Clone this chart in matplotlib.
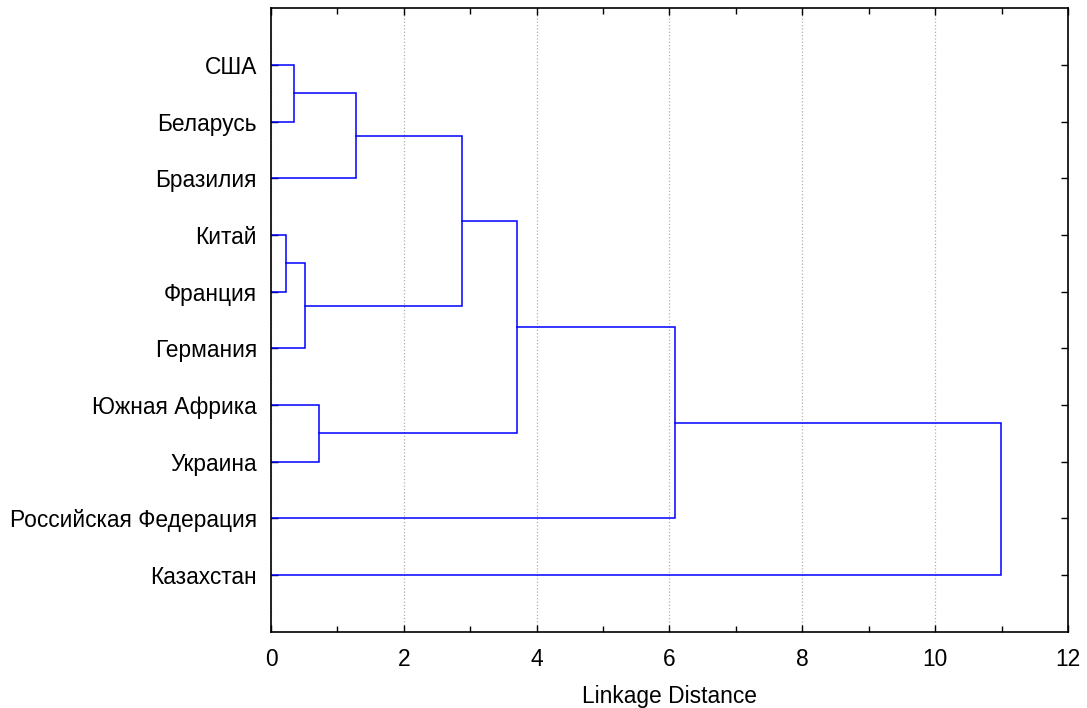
import numpy as np
import matplotlib
matplotlib.use('Agg')
import matplotlib.pyplot as plt
from matplotlib.ticker import MultipleLocator

plt.rcParams['font.family'] = ['Liberation Sans', 'DejaVu Sans']

# Leaves, top to bottom
countries = ['США', 'Беларусь', 'Бразилия', 'Китай', 'Франция', 'Германия',
             'Южная Африка', 'Украина', 'Российская Федерация', 'Казахстан']

# Merges: (node a, node b, linkage distance); new nodes get ids 10, 11, ...
merge_left = [0, 3, 10, 11, 6, 12, 15, 16, 17]
merge_right = [1, 4, 2, 5, 7, 13, 14, 8, 9]
merge_dist = [0.34, 0.22, 1.28, 0.51, 0.72, 2.88, 3.70, 6.08, 10.99]

fig = plt.figure(figsize=(10.87, 7.08), dpi=100)
ax = fig.add_axes([0.2493, 0.1078, 0.9825 - 0.2493, 0.988 - 0.1078])

n = len(countries)
ypos = {i: i + 1 for i in range(n)}
xpos = {i: 0.0 for i in range(n)}
color = '#0000ff'
for k, (a, b, d) in enumerate(zip(merge_left, merge_right, merge_dist)):
    node = n + k
    ax.plot([xpos[a], d, d, xpos[b]], [ypos[a], ypos[a], ypos[b], ypos[b]],
            color=color, lw=1.1, solid_joinstyle='miter')
    xpos[node] = d
    ypos[node] = (ypos[a] + ypos[b]) / 2

ax.set_xlim(0, 12)
ax.set_ylim(n + 1, 0)
ax.set_yticks(range(1, n + 1))
ax.set_yticklabels(countries)
ax.xaxis.set_major_locator(MultipleLocator(2))
ax.xaxis.set_minor_locator(MultipleLocator(1))
ax.tick_params(axis='both', which='both', direction='in', top=True, right=True,
               labelsize=16.4, colors='black', width=1.0)
ax.tick_params(axis='x', which='major', length=5, pad=11.5)
ax.tick_params(axis='x', which='minor', length=4)
ax.tick_params(axis='y', length=5, pad=10)
ax.grid(axis='x', which='major', linestyle=':', color='#b0b0b0', lw=0.9)
ax.set_axisbelow(True)
for s in ax.spines.values():
    s.set_linewidth(1.2)
ax.set_xlabel('Linkage Distance', fontsize=16.4, labelpad=10)

fig.savefig('out.png', dpi=100)
